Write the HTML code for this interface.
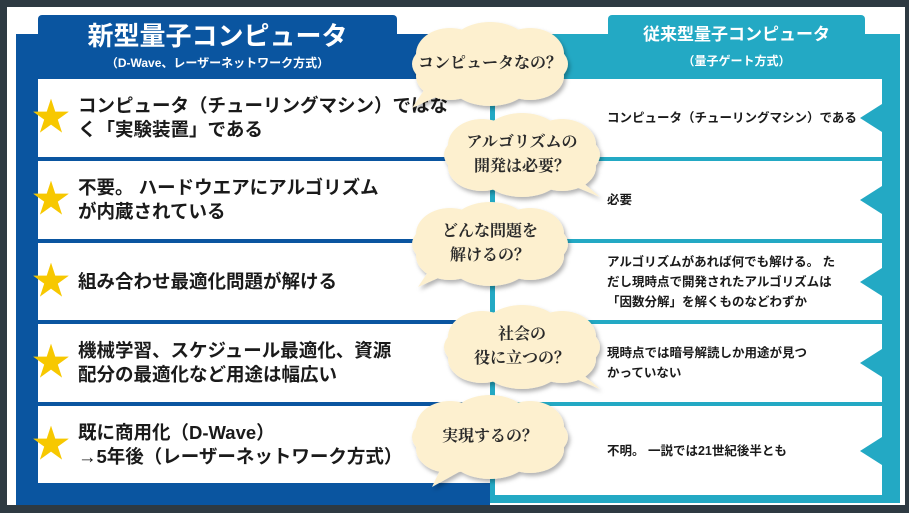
<!DOCTYPE html>
<html><head><meta charset="utf-8"><style>
body{margin:0;width:909px;height:513px;background:#2e3a42;position:relative;overflow:hidden;font-family:"Liberation Sans","Noto Sans CJK JP",sans-serif}
div{position:absolute;box-sizing:border-box}
.w{background:#fff}
.lt{left:38px;width:452px;font-weight:bold;font-size:18.5px;line-height:24px;color:#1a1a1a;padding-left:40px;display:flex;align-items:center}
.rt{left:495px;width:387px;font-weight:bold;font-size:12.5px;line-height:20px;color:#1a1a1a;padding-left:112px;display:flex;align-items:center}
.star{position:absolute;left:-6px;top:50%;margin-top:-18px;color:#f7c800;font-size:38px;line-height:36px;font-weight:normal}
.tri{position:absolute;right:0;width:0;height:0;border-top:14px solid transparent;border-bottom:14px solid transparent;border-right:22px solid #23a9c4;top:50%;margin-top:-14px}
.ct{font-family:"Liberation Serif","Noto Serif CJK SC",serif;font-size:16px;font-weight:bold;color:#2a2a2a;text-align:center;line-height:24px}
</style></head><body>
<div style="left:7px;top:7px;width:898px;height:498px;background:#fff"></div>
<div style="left:16px;top:34px;width:474px;height:471px;background:#0a55a0"></div>
<div style="left:490px;top:34px;width:410px;height:469px;background:#23a9c4"></div>
<div class="w lt" style="top:79px;height:78px"><span class="star">★</span>コンピュータ（チューリングマシン）ではな<br>く「実験装置」である</div>
<div class="w lt" style="top:161px;height:78px"><span class="star">★</span>不要。 ハードウエアにアルゴリズム<br>が内蔵されている</div>
<div class="w lt" style="top:243px;height:77px"><span class="star">★</span>組み合わせ最適化問題が解ける</div>
<div class="w lt" style="top:324px;height:78px"><span class="star">★</span>機械学習、スケジュール最適化、資源<br>配分の最適化など用途は幅広い</div>
<div class="w lt" style="top:406px;height:77px"><span class="star">★</span>既に商用化（D-Wave）<br>→5年後（レーザーネットワーク方式）</div>
<div class="w rt" style="top:79px;height:78px">コンピュータ（チューリングマシン）である<span class="tri"></span></div>
<div class="w rt" style="top:161px;height:78px">必要<span class="tri"></span></div>
<div class="w rt" style="top:243px;height:77px">アルゴリズムがあれば何でも解ける。 た<br>だし現時点で開発されたアルゴリズムは<br>「因数分解」を解くものなどわずか<span class="tri"></span></div>
<div class="w rt" style="top:324px;height:78px">現時点では暗号解読しか用途が見つ<br>かっていない<span class="tri"></span></div>
<div class="w rt" style="top:406px;height:89px">不明。 一説では21世紀後半とも<span class="tri"></span></div>
<div style="left:38px;top:15px;width:359px;height:64px;background:#0a55a0;border-radius:4px;color:#fff;text-align:center">
<div style="left:0;right:0;top:4px;font-size:26px;font-weight:bold;line-height:34px">新型量子コンピュータ</div>
<div style="left:0;right:0;top:40px;font-size:12px;font-weight:bold;line-height:16px">（D-Wave、レーザーネットワーク方式）</div></div>
<div style="left:608px;top:15px;width:257px;height:64px;background:#23a9c4;border-radius:4px;color:#fff;text-align:center">
<div style="left:0;right:0;top:8px;font-size:17px;font-weight:bold;line-height:24px">従来型量子コンピュータ</div>
<div style="left:0;right:0;top:38px;font-size:12px;font-weight:bold;line-height:16px">（量子ゲート方式）</div></div>
<svg width="909" height="513" style="position:absolute;left:0;top:0">
<defs><filter id="sh" x="-20%" y="-20%" width="140%" height="140%"><feDropShadow dx="2" dy="3" stdDeviation="2" flood-color="#000" flood-opacity="0.3"/></filter>
<g id="cl"><ellipse cx="0" cy="0" rx="78" ry="32"/><ellipse cx="-40" cy="-10" rx="34" ry="26"/><ellipse cx="0" cy="-16" rx="40" ry="26"/><ellipse cx="40" cy="-10" rx="34" ry="26"/><ellipse cx="-40" cy="12" rx="34" ry="24"/><ellipse cx="0" cy="18" rx="40" ry="24"/><ellipse cx="40" cy="12" rx="34" ry="24"/></g></defs>
<g fill="#fdf0cf" filter="url(#sh)">
<g transform="translate(490,64)"><use href="#cl"/><path d="M-55 10 L-78 44 L-30 22Z"/></g>
<g transform="translate(522,155)"><use href="#cl"/><path d="M40 10 L78 42 L30 22Z"/></g>
<g transform="translate(490,244)"><use href="#cl"/><path d="M-50 10 L-72 43 L-25 22Z"/></g>
<g transform="translate(522,347)"><use href="#cl"/><path d="M40 10 L78 42 L30 22Z"/></g>
<g transform="translate(490,437)"><use href="#cl"/><path d="M-40 12 L-58 50 L-15 26Z"/></g>
</g></svg>
<div class="ct" style="left:410px;top:52px;width:160px">コンピュータなの？</div>
<div class="ct" style="left:442px;top:131px;width:160px">アルゴリズムの<br>開発は必要？</div>
<div class="ct" style="left:410px;top:220px;width:160px">どんな問題を<br>解けるの？</div>
<div class="ct" style="left:442px;top:323px;width:160px">社会の<br>役に立つの？</div>
<div class="ct" style="left:410px;top:425px;width:160px">実現するの？</div>
</body></html>
